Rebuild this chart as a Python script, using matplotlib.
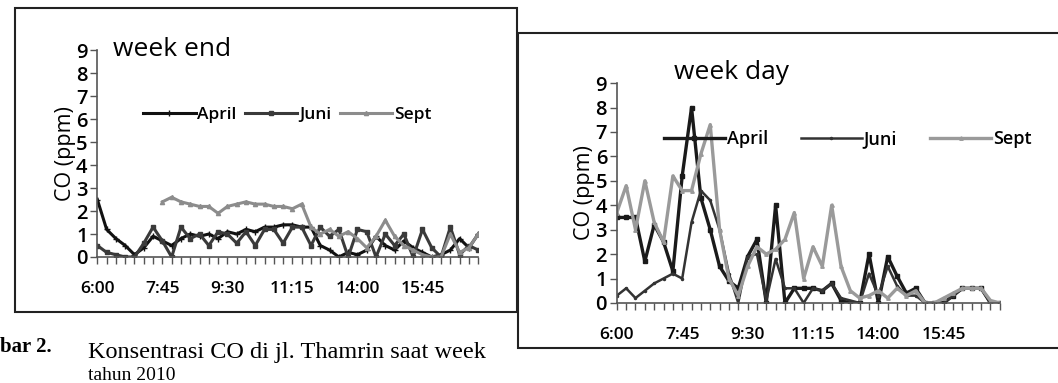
import numpy as np
import matplotlib.pyplot as plt
from matplotlib.patches import Rectangle

# time of measurement (15 minute steps, break between 12:00 and 13:15)
times = ["6:00", "6:15", "6:30", "6:45", "7:00", "7:15", "7:30", "7:45", "8:00", "8:15",
         "8:30", "8:45", "9:00", "9:15", "9:30", "9:45", "10:00", "10:15", "10:30", "10:45",
         "11:00", "11:15", "11:30", "11:45", "12:00", "13:15", "13:30", "13:45", "14:00", "14:15",
         "14:30", "14:45", "15:00", "15:15", "15:30", "15:45", "16:00", "16:15", "16:30", "16:45",
         "17:00", "17:15"]

# week end, CO (ppm)
we_april = [2.5, 1.2, 0.8, 0.5, 0.1, 0.4, 0.9, 0.7, 0.5, 0.8, 1.0, 0.9, 1.0, 0.8, 1.1, 1.0,
            1.2, 1.1, 1.3, 1.3, 1.4, 1.4, 1.3, 1.3, 0.5, 0.3, 0.0, 0.2, 0.1, 0.3, 0.9, 0.5,
            0.3, 0.7, 0.4, 0.2, 0.0, 0.1, 0.3, 0.8, 0.4, 1.0]
we_juni = [0.5, 0.2, 0.1, 0.0, 0.0, 0.6, 1.3, 0.7, 0.0, 1.3, 0.8, 1.0, 0.5, 1.1, 1.0, 0.6,
           1.1, 0.5, 1.2, 1.2, 0.6, 1.3, 1.3, 0.5, 1.3, 0.9, 1.2, 0.0, 1.2, 1.1, 0.0, 1.0,
           0.5, 1.0, 0.0, 1.2, 0.4, 0.0, 1.3, 0.1, 0.5, 0.3]
we_sept = [np.nan, np.nan, np.nan, np.nan, np.nan, np.nan, np.nan, 2.4, 2.6, 2.4, 2.3, 2.2,
           2.2, 1.9, 2.2, 2.3, 2.4, 2.3, 2.3, 2.2, 2.2, 2.1, 2.3, 1.3, 1.0, 1.2, 0.9, 1.1,
           0.8, 0.4, 0.9, 1.6, 0.9, 0.5, 0.3, 0.1, 0.0, 0.0, 1.0, 0.2, 0.4, 1.0]

# week day, CO (ppm)
wd_april = [3.5, 3.5, 3.5, 1.7, 3.2, 2.5, 1.3, 5.2, 8.0, 4.3, 3.0, 1.5, 0.9, 0.6, 1.9, 2.6,
            0.0, 4.0, 0.0, 0.6, 0.6, 0.6, 0.5, 0.8, 0.1, 0.0, 0.0, 2.0, 0.0, 1.9, 1.1, 0.4,
            0.6, 0.0, 0.0, 0.0, 0.3, 0.6, 0.6, 0.6, 0.0, 0.0]
wd_juni = [0.3, 0.6, 0.2, 0.5, 0.8, 1.0, 1.2, 1.0, 3.3, 4.6, 4.2, 3.0, 1.2, 0.0, 1.9, 2.0,
           0.1, 1.8, 0.6, 0.6, 0.0, 0.6, 0.5, 0.8, 0.2, 0.1, 0.0, 1.2, 0.3, 1.5, 0.7, 0.3,
           0.3, 0.0, 0.0, 0.0, 0.3, 0.6, 0.6, 0.6, 0.0, 0.0]
wd_sept = [3.7, 4.8, 3.0, 5.0, 3.3, 2.5, 5.2, 4.6, 4.6, 6.1, 7.3, 3.0, 1.0, 0.3, 1.5, 2.3,
           2.0, 2.2, 2.6, 3.7, 1.0, 2.3, 1.5, 4.0, 1.5, 0.5, 0.2, 0.3, 0.5, 0.2, 0.6, 0.3,
           0.5, 0.0, 0.0, 0.2, 0.4, 0.6, 0.6, 0.6, 0.1, 0.0]

sans = ["Open Sans", "DejaVu Sans"]
x = np.arange(len(times))

fig = plt.figure(figsize=(10.58, 3.83), dpi=100)


def setup(ax, title, tx, ty):
    ax.set_xlim(0, len(times) - 1)
    ax.set_ylim(0, 9)
    ax.set_yticks(range(10))
    ax.set_yticklabels([str(i) for i in range(10)], fontsize=14.5, fontfamily=sans,
                       fontweight="semibold")
    ax.set_xticks(x)
    ax.set_xticklabels([t if i % 7 == 0 else "" for i, t in enumerate(times)],
                       fontsize=12.5, fontfamily=sans, fontweight="semibold")
    ax.tick_params(axis="y", length=5, pad=2, color="#555555", width=1)
    ax.tick_params(axis="x", length=5, direction="out", color="#555555", width=1, pad=12)
    for s in ["top", "right"]:
        ax.spines[s].set_visible(False)
    for s in ["left", "bottom"]:
        ax.spines[s].set_color("#555555")
        ax.spines[s].set_linewidth(1.2)
    ax.set_ylabel("CO (ppm)", fontsize=15.5, fontfamily=sans, labelpad=0)
    ax.text(tx, ty, title, transform=ax.transAxes, fontsize=19, fontfamily=sans)
    ax.set_facecolor("none")


# week end
ax1 = fig.add_axes([0.092, 0.329, 0.36, 0.54])
ax1.set_zorder(3)
ax1.plot(x, we_april, color="#111111", lw=2.2, marker="+", ms=4, label="April")
ax1.plot(x, we_juni, color="#3a3a3a", lw=2.2, marker="s", ms=3.5, label="Juni")
ax1.plot(x, we_sept, color="#8c8c8c", lw=2.2, marker="^", ms=3, label="Sept")
setup(ax1, "week end", 0.04, 0.97)
ax1.legend(loc="upper left", bbox_to_anchor=(0.08, 0.80), ncol=3, frameon=False,
           prop={"family": sans, "size": 12.5, "weight": "semibold"}, handlelength=3.0,
           columnspacing=0.5, handletextpad=0.1)

# week day
ax2 = fig.add_axes([0.583, 0.209, 0.362, 0.574])
ax2.set_zorder(3)
ax2.plot(x, wd_april, color="#1a1a1a", lw=2.4, marker="s", ms=3, label="April")
ax2.plot(x, wd_juni, color="#333333", lw=1.8, marker=".", ms=3, label="Juni")
ax2.plot(x, wd_sept, color="#9a9a9a", lw=2.4, marker="^", ms=2.5, label="Sept")
setup(ax2, "week day", 0.15, 1.02)
ax2.legend(loc="upper left", bbox_to_anchor=(0.08, 0.86), ncol=3, frameon=False,
           prop={"family": sans, "size": 13, "weight": "semibold"}, handlelength=3.4,
           columnspacing=1.8, handletextpad=0.1)

# frames of the two scanned panels
fig.patches.append(Rectangle((15 / 1058, 1 - 312 / 383), 502 / 1058, 304 / 383,
                             transform=fig.transFigure, fill=False, lw=1.5,
                             edgecolor="#222222", zorder=2))
fig.patches.append(Rectangle((518 / 1058, 1 - 348 / 383), 600 / 1058, 315 / 383,
                             transform=fig.transFigure, facecolor="white", lw=1.5,
                             edgecolor="#222222", zorder=2))

# caption underneath (its right part is hidden behind the second panel)
fig.text(0.0, 1 - 352 / 383, "bar 2.", fontsize=15, fontweight="bold",
         fontfamily="Liberation Serif", va="baseline")
fig.text(88 / 1058, 1 - 358 / 383, "Konsentrasi CO di jl. Thamrin saat week",
         fontsize=17.5, fontfamily="Liberation Serif", va="baseline")
fig.text(88 / 1058, 1 - 380 / 383, "tahun 2010", fontsize=14,
         fontfamily="Liberation Serif", va="baseline")

fig.savefig("out.png", dpi=100, facecolor="white")
